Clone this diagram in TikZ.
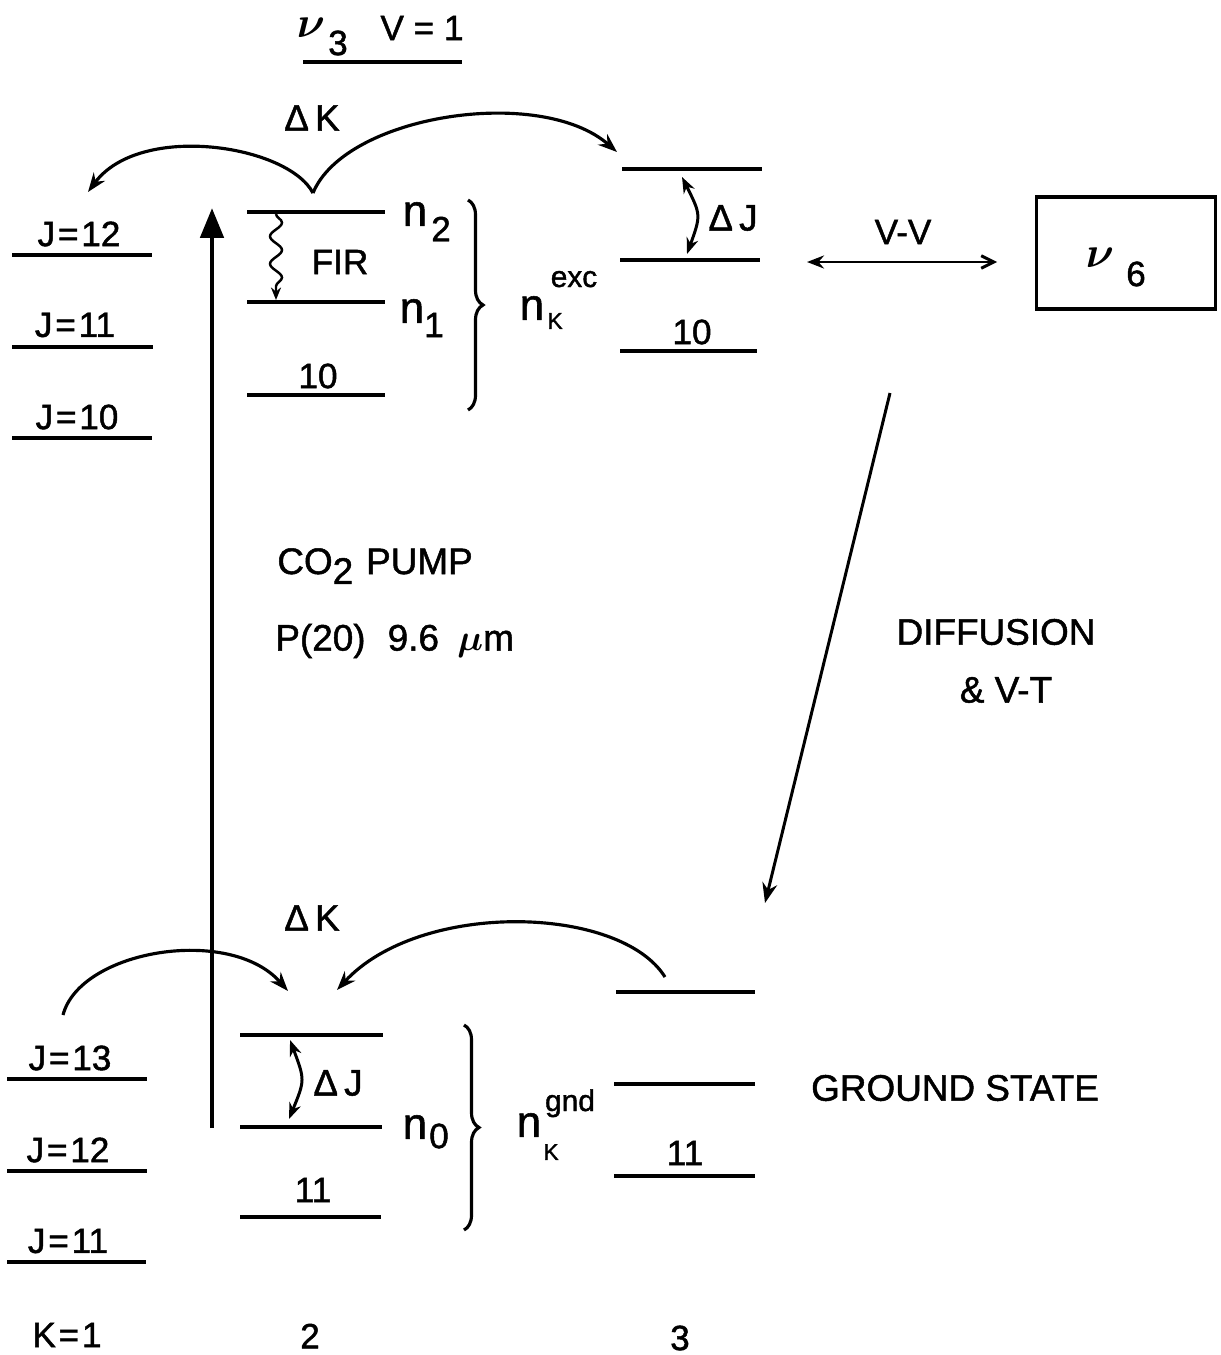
\documentclass[tikz,border=0pt]{standalone}
\usepackage{bm}
\usepackage{fontspec}
\setmainfont{Liberation Sans}[FakeBold=1.3]
\usetikzlibrary{arrows.meta,decorations.pathmorphing,decorations.pathreplacing}
\begin{document}
\begin{tikzpicture}[x=0.02cm,y=-0.02cm,
  lvl/.style={line width=2pt},
  txt/.style={inner sep=0pt,font=\fontsize{20}{23}\selectfont},
  captxt/.style={inner sep=0pt,font=\fontsize{21}{24}\selectfont},
  big/.style={inner sep=0pt,font=\fontsize{25}{27}\selectfont},
  sml/.style={inner sep=0pt,font=\fontsize{17}{19}\selectfont},
  tiny/.style={inner sep=0pt,font=\fontsize{13}{15}\selectfont},
  conn/.style={line width=1.8pt,-{Stealth[length=0.38cm,width=0.28cm]}},
  dconn/.style={line width=1.7pt,{Stealth[length=0.32cm,width=0.24cm]}-{Stealth[length=0.32cm,width=0.24cm]}},
  brc/.style={line width=1.8pt,decorate,decoration={brace,amplitude=0.3cm}}]

\useasboundingbox (0,0) rectangle (1220,1355);

% title
\node[big] (nu3) at (311,28) {$\bm{\nu}$};
\node[txt] (nu3s) at (338,43) {3};
\node[txt] (v1) at (422,28) {V = 1};
\draw[lvl] (303,62) -- (462,62);

% ---------- excited state ----------
\node[captxt] (dkt) at (312,118) {Δ\,K};
\coordinate (cusp) at (313,193);
\coordinate (kl) at (88,192);
\coordinate (kr) at (617,152);
\draw[conn] (cusp) .. controls (288,145) and (140,122) .. (kl);
\draw[conn] (cusp) .. controls (345,115) and (540,85) .. (kr);

% K=1 excited
\node[txt] (j12t) at (79,234) {J\hspace{0.08em}=\hspace{0.08em}12};
\draw[lvl] (12,255) -- (152,255);
\node[txt] (j11t) at (75,325) {J\hspace{0.08em}=\hspace{0.08em}11};
\draw[lvl] (12,347) -- (153,347);
\node[txt] (j10t) at (77,417) {J\hspace{0.08em}=\hspace{0.08em}10};
\draw[lvl] (12,438) -- (152,438);

% K=2 excited
\draw[lvl] (247,212) -- (385,212);
\draw[lvl] (247,302) -- (385,302);
\draw[lvl] (247,395) -- (385,395);
\node[txt] (ten2) at (318,376) {10};
\node[big] (n2) at (415,214) {n};
\node[txt] (n2s) at (441,229) {2};
\node[big] (n1) at (412,311) {n};
\node[txt] (n1s) at (434,325) {1};
\draw[brc] (468,200) -- (468,410);
\node[big] (nexc) at (532,308) {n};
\node[sml,anchor=base] (exc) at (574,287) {exc};
\node[tiny] (kexc) at (555,321) {K};
\node[txt] (fir) at (340,262) {FIR};
\coordinate (fa) at (276,214);
\coordinate (fb) at (276,300);
\draw[line width=1.4pt,decorate,decoration={snake,amplitude=0.12cm,segment length=0.55cm,post length=0.25cm},-{Stealth[length=0.25cm,width=0.2cm]}] (fa) -- (fb);

% K=3 excited
\draw[lvl] (622,169) -- (762,169);
\draw[lvl] (620,260) -- (760,260);
\draw[lvl] (620,351) -- (757,351);
\node[txt] (ten3) at (692,332) {10};
\coordinate (dja) at (682,177);
\coordinate (djb) at (687,254);
\draw[dconn] (dja) .. controls (701,215) .. (djb);
\node[captxt] (djt) at (733,218) {Δ\,J};

% V-V and nu6
\node[txt] (vv) at (903,232) {V-V};
\node[draw,line width=1.8pt,minimum width=3.58cm,minimum height=2.24cm,inner sep=0pt] (box6) at (1126,253) {};
\node[big] (nu6) at (1100,258) {$\bm{\nu}$};
\node[txt] (nu6s) at (1136,274) {6};
\coordinate (vva) at (807,262);
\coordinate (vvb) at (997,262);
\draw[line width=1.7pt,{Stealth[length=0.34cm,width=0.26cm]}-{Straight Barb[length=0.25cm,width=0.25cm]}] (vva) -- (vvb);

% pump
\coordinate (pb) at (212,1128);
\coordinate (pt) at (212,208);
\draw[line width=2.8pt,-{Triangle[length=0.6cm,width=0.46cm]}] (pb) -- (pt);
\node[captxt,anchor=west] (co2) at (277,566) {CO\raisebox{-0.5ex}{2}\hspace{0.35em}PUMP};
\node[captxt,anchor=west] (p20) at (275,641) {P(20)\hspace{0.6em}9.6\hspace{0.5em}$\bm{\mu}$m};

% diffusion
\node[captxt] (diff) at (996,632) {DIFFUSION};
\node[captxt] (vt) at (1006,690) {\&\ V-T};
\coordinate (da) at (890,393);
\coordinate (db) at (765,903);
\draw[line width=1.7pt,-{Stealth[length=0.4cm,width=0.3cm]}] (da) -- (db);

% ---------- ground state ----------
\node[captxt] (dkg) at (312,918) {Δ\,K};
\coordinate (gl0) at (63,1015);
\coordinate (gl1) at (288,991);
\draw[conn] (gl0) .. controls (80,950) and (230,925) .. (gl1);
\coordinate (gr0) at (665,977);
\coordinate (gr1) at (337,990);
\draw[conn] (gr0) .. controls (620,905) and (420,900) .. (gr1);

% K=1 ground
\node[txt] (j13g) at (70,1058) {J\hspace{0.08em}=\hspace{0.08em}13};
\draw[lvl] (7,1079) -- (147,1079);
\node[txt] (j12g) at (68,1150) {J\hspace{0.08em}=\hspace{0.08em}12};
\draw[lvl] (7,1171) -- (147,1171);
\node[txt] (j11g) at (68,1241) {J\hspace{0.08em}=\hspace{0.08em}11};
\draw[lvl] (7,1262) -- (146,1262);

% K=2 ground
\draw[lvl] (240,1035) -- (383,1035);
\draw[lvl] (240,1127) -- (382,1127);
\draw[lvl] (240,1217) -- (381,1217);
\node[txt] (el2) at (313,1190) {11};
\coordinate (gja) at (290,1040);
\coordinate (gjb) at (289,1119);
\draw[dconn] (gja) .. controls (305,1080) .. (gjb);
\node[captxt] (djg) at (338,1083) {Δ\,J};
\node[big] (n0) at (415,1127) {n};
\node[txt] (n0s) at (439,1136) {0};
\draw[brc] (464,1025) -- (464,1230);
\node[big] (ngnd) at (529,1125) {n};
\node[sml,anchor=base] (gnd) at (570,1111) {gnd};
\node[tiny] (kgnd) at (551,1152) {K};

% K=3 ground
\draw[lvl] (616,992) -- (755,992);
\draw[lvl] (614,1084) -- (755,1084);
\draw[lvl] (614,1176) -- (755,1176);
\node[txt] (el3) at (685,1153) {11};
\node[captxt] (gs) at (955,1088) {GROUND STATE};

% K labels
\node[txt] (k1) at (67,1335) {K\hspace{0.08em}=\hspace{0.08em}1};
\node[txt] (k2) at (310,1336) {2};
\node[txt] (k3) at (680,1338) {3};
\end{tikzpicture}
\end{document}
